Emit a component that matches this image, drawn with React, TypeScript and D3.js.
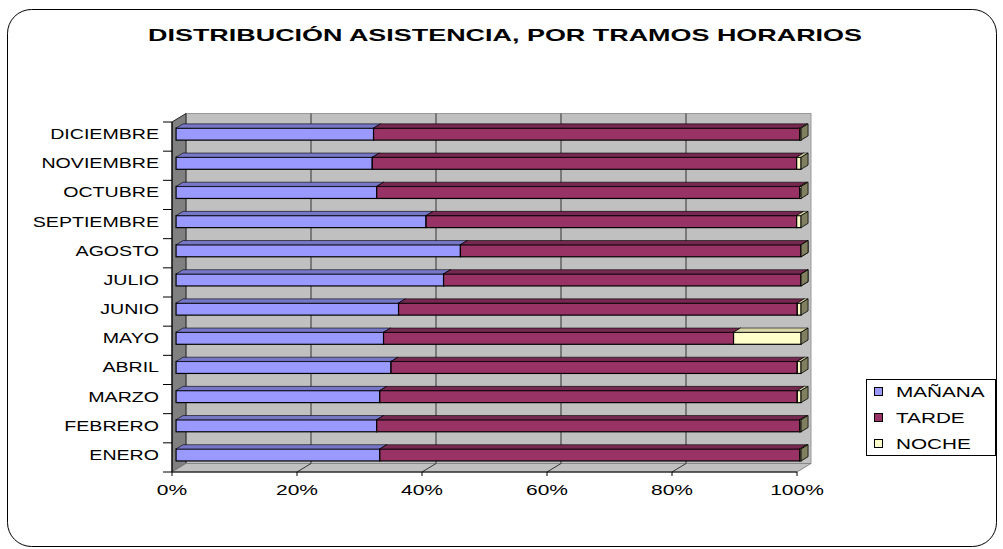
import React from "react";
import * as d3 from "d3";

const months = ["ENERO","FEBRERO","MARZO","ABRIL","MAYO","JUNIO","JULIO","AGOSTO","SEPTIEMBRE","OCTUBRE","NOVIEMBRE","DICIEMBRE"];
const manana = [32.6, 32.1, 32.6, 34.4, 33.2, 35.6, 42.8, 45.5, 40.0, 32.1, 31.4, 31.6];
const tarde = [67.2, 67.7, 66.8, 65.0, 56.0, 63.8, 57.2, 54.5, 59.3, 67.7, 67.9, 68.2];
const noche = [0.2, 0.2, 0.6, 0.6, 10.8, 0.6, 0, 0, 0.7, 0.2, 0.7, 0.2];
const seriesNames = ["MAÑANA", "TARDE", "NOCHE"];
const xTicks = [0, 0.2, 0.4, 0.6, 0.8, 1];
const title = "DISTRIBUCIÓN ASISTENCIA, POR TRAMOS HORARIOS";

const frontCol = ["#9999FF", "#993366", "#FFFFCC"];
const topCol = ["#7777C8", "#762850", "#D6D6A8"];
const sideCol = ["#5C5C99", "#5C1F3D", "#808060"];

const FONT = "'Liberation Sans', Arial, sans-serif";

export default function App() {
  const W = 1003, H = 549;
  const FX0 = 172, FX1 = 797, FY0 = 122, FY1 = 472;
  const DX = 14, DY = -8.5;
  const f0 = 0.29, fd = 0.5;
  const barH = 12;

  const rows = months.map((m, i) => ({ m, MAÑANA: manana[i], TARDE: tarde[i], NOCHE: noche[i] }));
  const stack = d3.stack<any>().keys(seriesNames).offset(d3.stackOffsetExpand);
  const stacked = stack(rows);

  const x = d3.scaleLinear().domain([0, 1]).range([FX0, FX1]);
  const y = d3.scaleBand<string>().domain([...months].reverse()).range([FY0, FY1]);
  const bw = y.bandwidth();

  const ox = f0 * DX, oy = f0 * DY;
  const bdx = fd * DX, bdy = fd * DY;

  const pts = (arr: number[][]) => arr.map(p => p.join(",")).join(" ");

  const bars: any[] = [];
  months.forEach((m, i) => {
    const yc = (y(m) as number) + bw / 2 + oy;
    const y0 = yc - barH / 2, y1 = yc + barH / 2;
    stacked.forEach((s, si) => {
      const a = x(s[i][0]) + ox, b = x(s[i][1]) + ox;
      bars.push(
        <g key={m + si}>
          <rect x={a} y={y0} width={Math.max(0, b - a)} height={barH} fill={frontCol[si]} stroke="#000" strokeWidth={1.2} />
          <polygon points={pts([[a, y0], [a + bdx, y0 + bdy], [b + bdx, y0 + bdy], [b, y0]])} fill={topCol[si]} stroke="#000" strokeWidth={0.6} />
          <polygon points={pts([[b, y0], [b + bdx, y0 + bdy], [b + bdx, y1 + bdy], [b, y1]])} fill={sideCol[si]} stroke="#000" strokeWidth={0.8} />
        </g>
      );
    });
  });

  const boundaries = d3.range(months.length + 1).map(k => FY0 + k * bw);

  return (
    <svg width={W} height={H} style={{ position: "absolute", left: 0, top: 0, background: "#fff" }} fontFamily={FONT}>
      <rect x={7.5} y={9.5} width={989} height={537} rx={24} ry={24} fill="#fff" stroke="#000" strokeWidth={1} />
      <text x={505} y={41} textAnchor="middle" fontWeight="bold" fontSize={17} textLength={714} lengthAdjust="spacingAndGlyphs">{title}</text>

      {/* back wall */}
      <rect x={FX0 + DX} y={FY0 + DY} width={FX1 - FX0} height={FY1 - FY0} fill="#C0C0C0" stroke="#999" strokeWidth={1} />
      {/* side wall */}
      <polygon points={pts([[FX0, FY0], [FX0 + DX, FY0 + DY], [FX0 + DX, FY1 + DY], [FX0, FY1]])} fill="#808080" stroke="#222" strokeWidth={1} />
      {/* floor */}
      <polygon points={pts([[FX0, FY1], [FX1, FY1], [FX1 + DX, FY1 + DY], [FX0 + DX, FY1 + DY]])} fill="#C0C0C0" stroke="#888" strokeWidth={1} />
      {/* gridlines */}
      {xTicks.slice(1, -1).map(t => (
        <g key={t}>
          <line x1={x(t) + DX} x2={x(t) + DX} y1={FY0 + DY} y2={FY1 + DY} stroke="#333" strokeWidth={1} />
          <line x1={x(t)} x2={x(t) + DX} y1={FY1} y2={FY1 + DY} stroke="#333" strokeWidth={1} />
        </g>
      ))}
      {/* axes */}
      <line x1={FX0} x2={FX0} y1={FY0} y2={FY1} stroke="#000" strokeWidth={1} />
      <line x1={FX0} x2={FX1} y1={FY1} y2={FY1} stroke="#000" strokeWidth={1} />
      {boundaries.map((b, k) => (
        <line key={k} x1={FX0 - 9} x2={FX0} y1={b} y2={b} stroke="#000" strokeWidth={1} />
      ))}
      {xTicks.map(t => (
        <line key={t} x1={x(t)} x2={x(t)} y1={FY1} y2={FY1 + 4} stroke="#000" strokeWidth={1} />
      ))}

      {bars}

      {months.map(m => (
        <text key={m} transform={`translate(159,${(y(m) as number) + bw / 2 + 2.5}) scale(1.4,1)`} textAnchor="end" fontSize={14}>{m}</text>
      ))}
      {xTicks.map(t => (
        <text key={t} transform={`translate(${x(t)},495) scale(1.5,1)`} textAnchor="middle" fontSize={14}>{d3.format(".0%")(t)}</text>
      ))}

      {/* legend */}
      <rect x={866.5} y={379.5} width={129} height={76} fill="#fff" stroke="#000" strokeWidth={1} />
      {seriesNames.map((s, i) => (
        <g key={s}>
          <rect x={874.5} y={387.5 + i * 26} width={8} height={8} fill={frontCol[i]} stroke="#000" strokeWidth={1} />
          <text transform={`translate(896,${397 + i * 26}) scale(1.48,1)`} fontSize={14}>{s}</text>
        </g>
      ))}
    </svg>
  );
}
